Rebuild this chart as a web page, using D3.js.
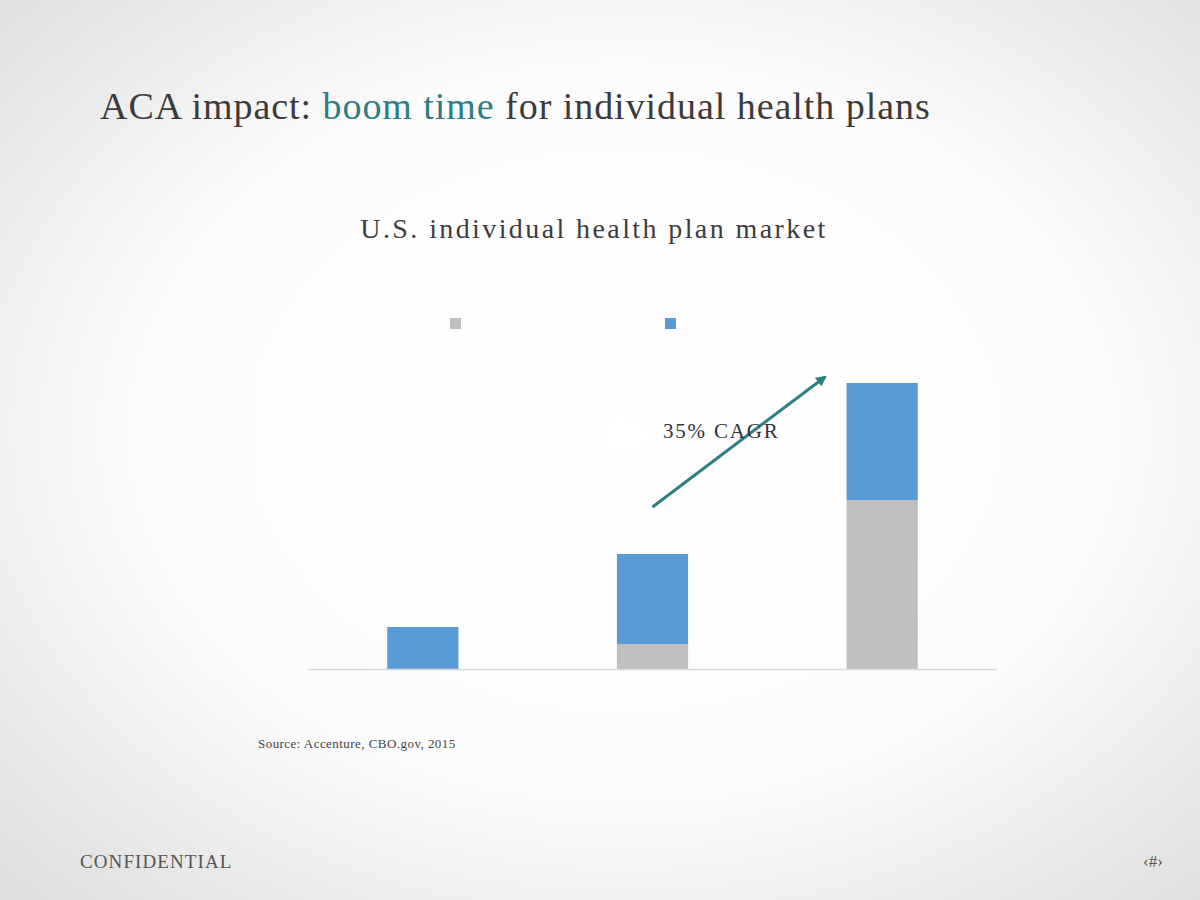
<!DOCTYPE html>
<html><head><meta charset="utf-8">
<script src="https://cdn.jsdelivr.net/npm/d3@7"></script>
<style>html,body{margin:0;padding:0;background:#fff;}</style>
</head><body>
<script>
const categories = ["2013", "2014", "2015"];
const seriesNames = ["Subsidized", "Unsubsidized"];
const subsidized = [0, 25, 169];
const unsubsidized = [42, 90, 117];
const annotation = "35% CAGR";

const W = 1200, H = 900;
const svg = d3.select("body").append("svg").attr("width", W).attr("height", H)
  .style("font-family", "'Liberation Serif','Times New Roman',serif");

const defs = svg.append("defs");
const rg = defs.append("radialGradient").attr("id", "bg").attr("cx", "52%").attr("cy", "48%").attr("r", "72%");
rg.append("stop").attr("offset", "0%").attr("stop-color", "#ffffff");
rg.append("stop").attr("offset", "55%").attr("stop-color", "#fcfcfc");
rg.append("stop").attr("offset", "100%").attr("stop-color", "#dedede");
svg.append("rect").attr("width", W).attr("height", H).attr("fill", "url(#bg)");

// Title
const title = svg.append("text").attr("x", 100).attr("y", 119).attr("font-size", 38)
  .attr("letter-spacing", 0.95).attr("fill", "#3b3b3b");
title.append("tspan").text("ACA impact: ");
title.append("tspan").attr("fill", "#2d7d84").text("boom time");
title.append("tspan").text(" for individual health plans");

svg.append("text").attr("x", 594).attr("y", 238).attr("text-anchor", "middle")
  .attr("font-size", 28).attr("letter-spacing", 2.4).attr("fill", "#3d3d3d").text("U.S. individual health plan market");

const colors = ["#bfbfc1", "#5b9bd5"];

// Legend
const legendX = [450, 665];
seriesNames.forEach((n, i) => {
  svg.append("rect").attr("x", legendX[i]).attr("y", 318).attr("width", 11).attr("height", 11).attr("fill", colors[i]);
});

// Scales
const x = d3.scaleBand().domain(categories).range([308, 997]).paddingInner(0.69).paddingOuter(0.345);
const y = d3.scaleLinear().domain([0, 300]).range([669, 369]);

const data = categories.map((c, i) => ({cat: c, Subsidized: subsidized[i], Unsubsidized: unsubsidized[i]}));
const stack = d3.stack().keys(seriesNames)(data);

svg.append("g").selectAll("g").data(stack).join("g").attr("fill", (d, i) => colors[i])
  .selectAll("rect").data(d => d).join("rect")
  .attr("x", d => x(d.data.cat))
  .attr("width", x.bandwidth())
  .attr("y", d => y(d[1]))
  .attr("height", d => y(d[0]) - y(d[1]));

// Baseline axis
svg.append("line").attr("x1", 308).attr("x2", 997).attr("y1", y(0) + 0.5).attr("y2", y(0) + 0.5)
  .attr("stroke", "#d9d9d9").attr("stroke-width", 1.5);

// Arrow annotation
defs.append("marker").attr("id", "ah").attr("viewBox", "0 0 10 10").attr("refX", 8).attr("refY", 5)
  .attr("markerWidth", 3.6).attr("markerHeight", 3.6).attr("orient", "auto")
  .append("path").attr("d", "M0,0L10,5L0,10z").attr("fill", "#2d7d84");
const ax0 = x("2014") + x.bandwidth() / 2;
svg.append("line").attr("x1", ax0).attr("y1", 507).attr("x2", 825).attr("y2", 377)
  .attr("stroke", "#2d7d84").attr("stroke-width", 3).attr("marker-end", "url(#ah)");
svg.append("text").attr("x", 663).attr("y", 438).attr("font-size", 21).attr("letter-spacing", 1.8)
  .attr("fill", "#333").text(annotation);

// Source
svg.append("text").attr("x", 258).attr("y", 748).attr("font-size", 13).attr("letter-spacing", 0.45).attr("fill", "#444")
  .text("Source: Accenture, CBO.gov, 2015");

// Footer
svg.append("text").attr("x", 80).attr("y", 868).attr("font-size", 19).attr("letter-spacing", 1.1).attr("fill", "#555").text("CONFIDENTIAL");
svg.append("text").attr("x", 1143).attr("y", 867).attr("font-size", 17).attr("fill", "#555").text("‹#›");
</script>
</body></html>
